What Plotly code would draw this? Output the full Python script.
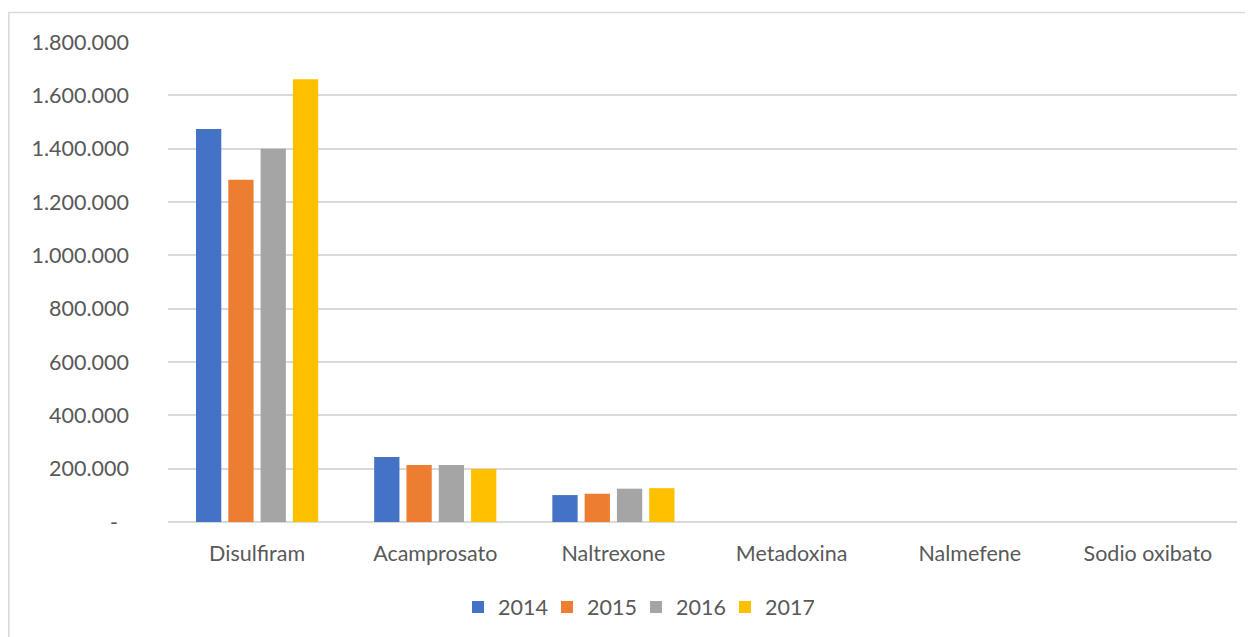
import plotly.graph_objects as go

categories = ["Disulfiram", "Acamprosato", "Naltrexone", "Metadoxina", "Nalmefene", "Sodio oxibato"]
years = ["2014", "2015", "2016", "2017"]
values_2014 = [1474000, 244000, 101000, 0, 0, 0]
values_2015 = [1283000, 214000, 106000, 0, 0, 0]
values_2016 = [1400000, 214000, 125000, 0, 0, 0]
values_2017 = [1660000, 199000, 127000, 0, 0, 0]
colors = ["#4472C4", "#ED7D31", "#A5A5A5", "#FFC000"]
tick_vals = [0, 200000, 400000, 600000, 800000, 1000000, 1200000, 1400000, 1600000, 1800000]
tick_text = ["-\u00a0\u00a0", "200.000", "400.000", "600.000", "800.000", "1.000.000",
             "1.200.000", "1.400.000", "1.600.000", "1.800.000"]

series = [values_2014, values_2015, values_2016, values_2017]

fig = go.Figure()
for name, vals, col in zip(years, series, colors):
    fig.add_trace(go.Bar(x=categories, y=vals, name=name, marker_color=col,
                         marker_line_width=0))

# page body has an 8px margin, so the figure is offset by 8px
OFF = 8
W, H = 1253 - OFF, 637 - OFF
ml, mr, mt, mb = 168 - OFF, 16, 42 - OFF, 115
pw = W - ml - mr
ph = H - mt - mb

fig.update_layout(
    width=W, height=H,
    margin=dict(l=ml, r=mr, t=mt, b=mb, autoexpand=False),
    paper_bgcolor="white", plot_bgcolor="white",
    barmode="group", bargap=0.275, bargroupgap=0.217,
    font=dict(family="Lato", size=21.5, color="#595959"),
    showlegend=True,
    legend=dict(orientation="h", x=(636 - OFF - ml) / pw, xanchor="center",
                y=-(607 - 637 + mb) / ph, yanchor="middle",
                font=dict(size=21.5, color="#595959"),
                itemwidth=30, entrywidth=44, entrywidthmode="pixels",
                traceorder="normal"),
    xaxis=dict(showgrid=False, showline=False, ticks="", tickfont=dict(size=21.5),
               ticklabelstandoff=16),
    yaxis=dict(range=[0, 1800000], tickvals=tick_vals, ticktext=tick_text,
               showgrid=True, gridcolor="#D9D9D9", gridwidth=1.5,
               zeroline=True, zerolinecolor="#D9D9D9", zerolinewidth=2,
               showline=False, ticks="", ticklabelstandoff=38,
               tickfont=dict(size=21.5)),
    shapes=[dict(type="rect", xref="paper", yref="paper",
                 x0=(0.8 - ml) / pw, x1=(1290 - ml) / pw,
                 y0=-0.4, y1=1 + (mt - 4.5) / ph,
                 line=dict(color="#D9D9D9", width=1.5), layer="below")],
)

fig.write_html("out.html")
